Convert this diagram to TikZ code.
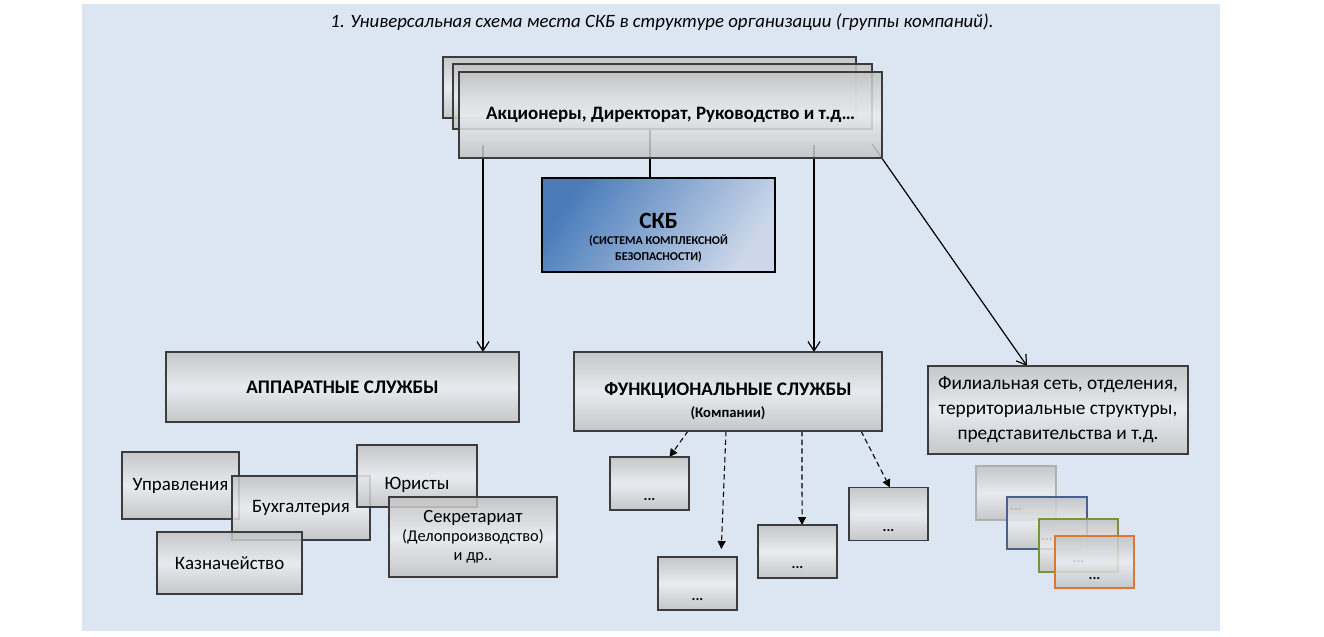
\documentclass[tikz,border=0pt]{standalone}
\usepackage{fontspec}
\setmainfont{Carlito}
\usetikzlibrary{arrows.meta}
\definecolor{bgblue}{RGB}{220,230,242}
\definecolor{boxgray}{RGB}{194,194,194}
\definecolor{boxlight}{RGB}{234,236,239}
\definecolor{boxline}{RGB}{60,60,60}
\definecolor{skbdark}{RGB}{74,124,186}
\definecolor{skblight}{RGB}{204,216,234}
\definecolor{cgray}{RGB}{175,175,175}
\definecolor{cblue}{RGB}{74,96,140}
\definecolor{cgreen}{RGB}{119,147,60}
\definecolor{corange}{RGB}{222,118,52}
\newcommand{\fs}[1]{\fontsize{#1}{1.2\dimexpr#1pt\relax}\selectfont}
\pgfdeclarelayer{bg}
\pgfdeclarelayer{lines}
\pgfsetlayers{bg,lines,main}
\tikzset{
  sz/.style 2 args={minimum width=#1*0.75pt,minimum height=#2*0.75pt},
  box/.style={draw=boxline,line width=0.9pt,top color=boxgray,bottom color=boxgray,
    middle color=boxlight,fill opacity=0.85,text opacity=1,inner sep=0pt,outer sep=0pt,align=center},
  skbbox/.style={draw=black,line width=0.9pt,top color=skbdark,bottom color=skblight,
    shading angle=55,inner sep=0pt,outer sep=0pt},
  dotbox/.style={box,sz={79}{53},text height=26pt,text depth=0pt,font=\bfseries\fs{11}},
  arr/.style={-{Straight Barb[length=7pt,width=9pt]},line width=0.9pt},
  darr/.style={-{Triangle[length=6pt,width=6pt]},line width=0.8pt,dash pattern=on 4pt off 2.5pt},
}
\begin{document}
\begin{tikzpicture}[x=0.75pt,y=-0.75pt]
\useasboundingbox (0,0) rectangle (1324,636);
\begin{pgfonlayer}{bg}
\fill[bgblue] (82,4) rectangle (1220,631);
\end{pgfonlayer}
\node (title) at (662,22) {\fs{14.1}\itshape 1. Универсальная схема места СКБ в структуре организации (группы компаний).};

\node[box,sz={413}{61}] (top1) at (649.5,87.5) {};
\node[box,sz={419}{65}] (top2) at (662.5,96.5) {};
\node[box,sz={423}{86},font=\bfseries\fs{14.2}] (top) at (670.5,115) {Акционеры, Директорат, Руководство и т.д…};

\node[skbbox,sz={233}{94}] (skb) at (658.5,225) {};
\node[align=center,font=\bfseries] (skbtext) at (658.5,237.5) {{\fs{17.5}СКБ}\\[0.5pt]{\fs{9}(СИСТЕМА КОМПЛЕКСНОЙ}\\[-0.3pt]{\fs{9}БЕЗОПАСНОСТИ)}};

\node[box,sz={353}{70},font=\bfseries\fs{14.4}] (apparat) at (342.5,387) {АППАРАТНЫЕ СЛУЖБЫ};
\node[box,sz={308}{79}] (func) at (728,391.5) {};
\node[align=center,font=\bfseries] (functext) at (728,401) {{\fs{14.4}ФУНКЦИОНАЛЬНЫЕ СЛУЖБЫ}\\[4pt]{\fs{11}(Компании)}};
\node[box,sz={260}{88},font=\fontsize{14.5}{18.75}\selectfont] (filial) at (1058,410) {Филиальная сеть, отделения,\\территориальные структуры,\\представительства и т.д.};

\node[box,sz={117}{67},font=\fs{14.2}] (upr) at (180.5,485.5) {Управления};
\node[box,sz={138}{64},font=\fs{14.2}] (buh) at (301,508) {Бухгалтерия};
\node[box,sz={145}{62},font=\fs{14.2}] (kaz) at (229.5,563) {Казначейство};
\node[box,sz={120}{62},font=\fs{14.2},text height=22pt,text depth=2pt] (jur) at (417,476) {Юристы};
\node[box,sz={168}{80}] (sec) at (473,537) {{\fs{14}Секретариат}\\[2pt]{\fs{12.3}(Делопроизводство)}\\[2.5pt]{\fs{12.3}и др..}};

\node[dotbox] (b1) at (649.5,483.5) {...};
\node[dotbox] (b2) at (697.5,583.5) {...};
\node[dotbox] (b3) at (797.5,551.5) {...};
\node[dotbox] (b4) at (888.5,514) {...};

\node[dotbox,draw=cgray,sz={80}{54}] (c1) at (1016,493) {...};
\node[dotbox,draw=cblue,sz={80}{52}] (c2) at (1047,523) {...};
\node[dotbox,draw=cgreen] (c3) at (1078.5,545.5) {...};
\node[dotbox,draw=corange,sz={79}{52}] (c4) at (1094.5,562) {...};

\begin{pgfonlayer}{lines}
\coordinate (s1) at (483,145);
\coordinate (s2) at (650,130);
\coordinate (s3) at (814,145);
\coordinate (s4) at (872,144);
\draw[arr] (s1) -- (s1 |- apparat.north);
\draw[line width=0.9pt] (s2) -- (s2 |- skb.north);
\draw[arr] (s3) -- (s3 |- func.north);
\draw[arr] (s4) -- ([xshift=-23.25pt]filial.north);
\draw[darr] ([xshift=-30pt]func.south) -- ([xshift=15pt]b1.north);
\draw[darr,shorten >=6pt] ([xshift=-1.5pt]func.south) -- ([xshift=17.6pt]b2.north);
\draw[darr] ([xshift=55.5pt]func.south) -- ([xshift=3.4pt]b3.north);
\draw[darr] ([xshift=99.75pt]func.south) -- ([xshift=1.1pt]b4.north);
\end{pgfonlayer}
\end{tikzpicture}
\end{document}
